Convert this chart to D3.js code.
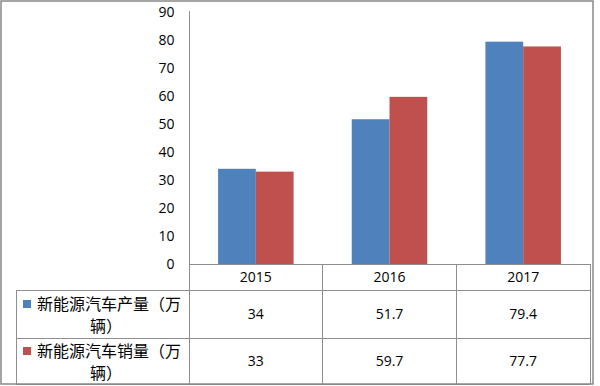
<!DOCTYPE html>
<html>
<head>
<meta charset="utf-8">
<script src="https://cdn.jsdelivr.net/npm/d3@7"></script>
<style>
  body { margin: 0; background: #fff; }
  svg { display: block; }
</style>
</head>
<body>
<div id="chart"></div>
<script>
"use strict";
var years = ["2015", "2016", "2017"];
var seriesNames = ["新能源汽车产量（万辆）", "新能源汽车销量（万辆）"];
var legendLines = [["新能源汽车产量（万", "辆）"], ["新能源汽车销量（万", "辆）"]];
var production = [34, 51.7, 79.4];
var sales = [33, 59.7, 77.7];
var yTicks = [0, 10, 20, 30, 40, 50, 60, 70, 80, 90];

function drawChart()
{
    var w = 600;
    var h = 386;
    var colors = ["#4f81bd", "#c0504d"];
    var lineColor = "#8e8e8e";
    var numFont = "'Open Sans', 'Liberation Sans', sans-serif";
    var cjkFont = "'Noto Sans CJK SC', sans-serif";

    var left = 189, right = 590, top = 12, base = 264;
    var rowTops = [290, 338, 384];

    var svg = d3.select("#chart")
                .append("svg")
                .attr("width", w)
                .attr("height", h);

    var y = d3.scaleLinear()
              .domain([0, 90])
              .range([base, top]);

    var x0 = d3.scaleBand()
               .domain(years)
               .range([left, right])
               .padding(0);

    var x1 = d3.scaleBand()
               .domain([0, 1])
               .range([0, x0.bandwidth()])
               .paddingInner(0)
               .paddingOuter(0.77);

    var data = years.map(function(yr, i) {
        return {year: yr, values: [production[i], sales[i]]};
    });

    // bars
    var groups = svg.selectAll("g.year")
                    .data(data)
                    .enter().append("g")
                    .attr("class", "year")
                    .attr("transform", function(d) { return "translate(" + x0(d.year) + ",0)"; });

    groups.selectAll("rect")
          .data(function(d) { return d.values.map(function(v, k) { return {k: k, v: v}; }); })
          .enter().append("rect")
          .attr("x", function(d) { return x1(d.k); })
          .attr("width", x1.bandwidth())
          .attr("y", function(d) { return y(d.v); })
          .attr("height", function(d) { return base - y(d.v); })
          .attr("fill", function(d) { return colors[d.k]; });

    // y axis
    var yAxis = d3.axisLeft(y)
                  .tickValues(yTicks)
                  .tickSize(0)
                  .tickPadding(15);

    var ya = svg.append("g")
                .attr("transform", "translate(" + (left + 0.5) + ",0)")
                .call(yAxis);
    ya.select(".domain").attr("stroke", lineColor).attr("d", "M0," + (top - 1) + "V" + base);
    ya.selectAll("text")
      .style("font-family", numFont)
      .style("font-size", "14px")
      .attr("fill", "#000");

    // data table lines
    var grid = svg.append("g")
                  .attr("stroke", lineColor)
                  .attr("stroke-width", 1)
                  .attr("shape-rendering", "crispEdges");

    grid.append("line").attr("x1", left).attr("x2", right).attr("y1", base).attr("y2", base);
    rowTops.forEach(function(ry) {
        grid.append("line").attr("x1", 16).attr("x2", right).attr("y1", ry).attr("y2", ry);
    });
    x0.domain().forEach(function(yr) {
        var xx = x0(yr) + x0.bandwidth();
        grid.append("line").attr("x1", xx).attr("x2", xx).attr("y1", base).attr("y2", rowTops[2]);
    });
    grid.append("line").attr("x1", left).attr("x2", left).attr("y1", base).attr("y2", rowTops[2]);
    grid.append("line").attr("x1", 16).attr("x2", 16).attr("y1", rowTops[0]).attr("y2", rowTops[2]);

    // year labels
    svg.selectAll("text.yr")
       .data(years)
       .enter().append("text")
       .attr("class", "yr")
       .attr("x", function(d) { return x0(d) + x0.bandwidth() / 2; })
       .attr("y", (base + rowTops[0]) / 2)
       .attr("dy", "0.35em")
       .attr("text-anchor", "middle")
       .style("font-family", numFont)
       .style("font-size", "14px")
       .text(function(d) { return d; });

    // values rows
    [production, sales].forEach(function(series, s) {
        var cy = (rowTops[s] + rowTops[s + 1]) / 2;
        svg.selectAll("text.v" + s)
           .data(series)
           .enter().append("text")
           .attr("class", "v" + s)
           .attr("x", function(d, i) { return x0(years[i]) + x0.bandwidth() / 2; })
           .attr("y", cy)
           .attr("dy", "0.35em")
           .attr("text-anchor", "middle")
           .style("font-family", numFont)
           .style("font-size", "14px")
           .text(function(d) { return d; });

        // legend key
        svg.append("rect")
           .attr("x", 23)
           .attr("y", cy - 14)
           .attr("width", 8)
           .attr("height", 8)
           .attr("fill", colors[s]);

        var lt = svg.append("text")
                    .attr("text-anchor", "middle")
                    .style("font-family", cjkFont)
                    .style("font-size", "16px")
                    .attr("fill", "#000");
        lt.append("tspan").attr("x", 109).attr("y", cy - 10).attr("dy", "0.35em").text(legendLines[s][0]);
        lt.append("tspan").attr("x", 106).attr("y", cy + 12).attr("dy", "0.35em").text(legendLines[s][1]);
    });

    // outer border
    svg.append("rect")
       .attr("x", 1)
       .attr("y", 1)
       .attr("width", 592)
       .attr("height", 383)
       .attr("fill", "none")
       .attr("stroke", "#888")
       .attr("stroke-width", 1.5);
}

window.addEventListener("load", function() {
    drawChart();
});
</script>
</body>
</html>
